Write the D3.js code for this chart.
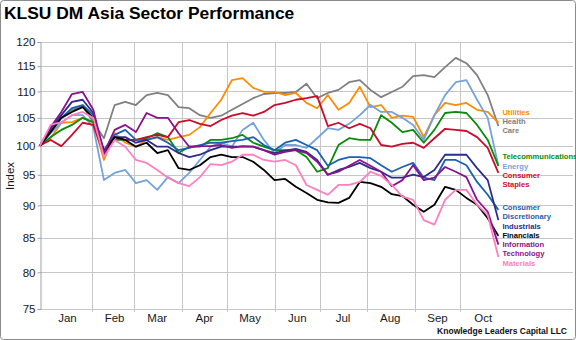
<!DOCTYPE html>
<html>
<head>
<meta charset="utf-8">
<script src="https://cdn.jsdelivr.net/npm/d3@7"></script>
<style>
  html, body { margin: 0; padding: 0; background: #fff; }
  svg { display: block; font-family: "Liberation Sans", Arial, sans-serif; }
</style>
</head>
<body>
<svg id="chart" width="576" height="340"></svg>
<script>
// ---- data (weekly closes, index = 100 at start) ----
const dates = ["2017-12-29","2018-01-05","2018-01-12","2018-01-19","2018-01-26","2018-02-02","2018-02-09","2018-02-16","2018-02-23","2018-03-02","2018-03-09","2018-03-16","2018-03-23","2018-03-30","2018-04-06","2018-04-13","2018-04-20","2018-04-27","2018-05-04","2018-05-11","2018-05-18","2018-05-25","2018-06-01","2018-06-08","2018-06-15","2018-06-22","2018-06-29","2018-07-06","2018-07-13","2018-07-20","2018-07-27","2018-08-03","2018-08-10","2018-08-17","2018-08-24","2018-08-31","2018-09-07","2018-09-14","2018-09-21","2018-09-28","2018-10-05","2018-10-12","2018-10-19","2018-10-26"];

const utilities = [100,101.3,104.1,104.2,105.0,104.1,97.5,102.2,100.5,99.8,101.0,101.5,101.0,101.5,101.9,103.3,105.9,108.4,112.2,112.6,110.7,109.9,109.9,109.3,109.7,107.8,106.8,109.3,106.5,107.8,110.9,107.0,107.4,105.0,105.4,105.2,101.5,105.5,107.8,107.4,107.8,106.5,106.1,104.1];
const healthCare = [100,102.8,105.0,106.5,107.2,104.2,101.3,107.4,108.0,107.4,109.3,109.7,109.3,107.0,106.8,105.5,105.0,105.4,106.5,107.6,108.7,109.5,109.7,109.7,109.9,111.5,108.7,109.7,110.3,111.8,112.2,110.3,108.9,109.9,110.9,113.0,113.2,112.8,114.8,116.7,115.6,113.2,109.3,103.5];
const telecom = [100,101.5,102.8,103.7,105.0,104.2,99.2,101.0,101.0,101.0,101.3,102.2,101.5,98.7,99.8,99.8,101.0,101.0,101.3,101.9,100.5,99.8,99.2,99.2,99.2,98.0,95.5,96.1,100.1,101.3,101.0,101.0,105.5,104.1,102.4,102.8,100.5,102.8,105.9,106.1,105.9,103.7,101.0,96.5];
const energy = [100,102.2,104.1,105.5,105.5,103.3,94.1,95.3,95.8,93.6,94.1,92.5,94.6,93.6,95.3,97.5,99.8,100.5,99.8,102.8,104.1,101.0,98.7,100.1,100.1,99.6,101.3,103.1,102.8,103.9,105.5,107.4,106.1,106.1,105.0,103.7,101.0,105.5,109.3,111.8,112.2,108.4,105.0,96.5];
const consStaples = [100,101.0,99.9,101.9,104.1,103.7,98.4,101.5,101.0,101.0,101.5,101.9,101.5,104.2,104.6,103.9,103.5,104.6,105.4,105.9,105.4,106.1,107.4,107.8,108.4,108.7,109.1,103.5,104.1,103.1,103.9,103.1,100.1,99.8,100.3,100.5,99.6,101.3,103.0,102.8,102.6,101.5,99.6,95.3];
const consDisc = [100,102.8,105.0,106.8,107.4,105.5,99.2,101.9,102.8,101.0,101.0,101.5,100.5,99.2,99.6,100.1,100.5,100.5,100.8,101.0,101.5,100.1,99.2,100.5,101.0,100.1,99.2,96.5,97.5,98.0,98.0,97.8,96.6,95.5,96.3,97.0,94.5,94.1,97.5,97.5,96.6,93.8,91.7,89.3];
const industrials = [100,103.1,105.5,108.0,108.4,105.9,98.7,101.5,101.5,100.5,101.0,99.8,99.8,98.7,98.0,98.4,99.2,99.8,99.8,99.8,99.8,99.2,98.7,99.1,99.4,98.9,97.5,95.0,95.8,96.3,97.0,96.1,95.5,94.5,94.5,95.0,94.6,95.8,98.4,98.4,98.4,96.1,94.1,87.7];
const financials = [100,102.4,105.0,106.1,107.0,105.0,98.9,101.5,101.0,99.8,100.5,98.7,99.2,96.1,95.8,96.6,98.0,98.4,98.0,98.0,97.2,95.8,94.1,94.3,93.0,92.0,90.9,90.5,90.4,91.2,93.8,93.6,93.0,91.8,91.5,90.1,89.0,90.1,93.0,92.5,91.2,90.1,88.0,85.3];
const infoTech = [100,103.3,106.1,109.5,109.9,106.5,98.7,102.8,103.7,102.4,105.9,105.0,105.0,102.2,99.8,99.9,99.9,100.1,99.6,99.9,99.8,99.2,98.4,98.9,99.2,98.7,97.2,95.0,95.5,96.5,97.5,96.5,95.5,93.1,94.1,96.6,94.1,94.5,96.3,95.5,94.6,90.9,89.0,84.0];
const materials = [100,103.7,104.2,105.5,106.1,105.0,98.0,101.0,99.8,97.5,97.0,95.8,94.5,93.6,93.1,94.6,96.8,96.6,97.2,98.4,98.4,97.5,97.2,97.5,96.6,93.3,92.5,91.7,93.3,93.3,93.8,95.5,94.8,93.3,91.4,90.9,87.7,87.0,90.9,92.5,92.5,90.1,88.5,82.2];

const seriesNames = ["Utilities","Health Care","Telecommunications","Energy","Consumer Staples","Consumer Discretionary","Industrials","Financials","Information Technology","Materials"];
const seriesValues = [utilities, healthCare, telecom, energy, consStaples, consDisc, industrials, financials, infoTech, materials];
const seriesColors = ["#ff8c00","#808080","#0a8a0a","#74a2da","#cc0a2a","#1a62ae","#2c2c8c","#000000","#8a128a","#ff7fc0"];
// end-label text lines and the index level of each label's first baseline
const labelLines = [["Utilities"],["Health","Care"],["Telecommunications"],["Energy"],["Consumer","Staples"],["Consumer","Discretionary"],["Industrials"],["Financials"],["Information","Technology"],["Materials"]];
const labelValues = [105.5, 103.8, 97.6, 96.0, 94.5, 89.2, 86.4, 85.0, 83.6, 80.9];
const yTicks = [75,80,85,90,95,100,105,110,115,120];
const monthLabels = ["Jan","Feb","Mar","Apr","May","Jun","Jul","Aug","Sep","Oct"];

const titleText = "KLSU DM Asia Sector Performance";
const yAxisTitle = "Index";
const creditText = "Knowledge Leaders Capital LLC";

// ---- layout ----
const W = 576, H = 340;
const plot = { left: 40, right: 573, top: 42, bottom: 309 };
const parse = d3.timeParse("%Y-%m-%d");
const dateObjs = dates.map(parse);

const x = d3.scaleTime()
  .domain([parse("2017-12-29"), parse("2018-12-14")])
  .range([plot.left, plot.right]);
const y = d3.scaleLog()
  .domain([75, 120])
  .range([plot.bottom, plot.top]);

const svg = d3.select("#chart");

// outer frame
svg.append("rect")
  .attr("x", 0.5).attr("y", 0.5).attr("width", W - 1).attr("height", H - 1)
  .attr("rx", 3).attr("fill", "#fff").attr("stroke", "#8c8c8c").attr("stroke-width", 1);

// title
svg.append("text")
  .attr("x", 4).attr("y", 19)
  .attr("font-size", 17.4).attr("font-weight", "bold").attr("fill", "#000")
  .text(titleText);

// horizontal grid
const gGrid = svg.append("g");
gGrid.selectAll("line.h").data(yTicks).join("line")
  .attr("x1", plot.left).attr("x2", plot.right)
  .attr("y1", d => Math.round(y(d)) + 0.5).attr("y2", d => Math.round(y(d)) + 0.5)
  .attr("stroke", "#c6c6c6").attr("stroke-width", 1);

// vertical month grid (month starts Feb..Oct)
const monthStarts = d3.timeMonth.range(parse("2018-02-01"), parse("2018-10-02"));
gGrid.selectAll("line.v").data(monthStarts).join("line")
  .attr("x1", d => Math.round(x(d)) + 0.5).attr("x2", d => Math.round(x(d)) + 0.5)
  .attr("y1", plot.top).attr("y2", plot.bottom + 3)
  .attr("stroke", "#c6c6c6").attr("stroke-width", 1);

// y axis
const yAxis = d3.axisLeft(y).tickValues(yTicks).tickFormat(d3.format("d")).tickSize(3).tickPadding(2);
const gy = svg.append("g").attr("transform", `translate(${plot.left + 0.5},0)`).call(yAxis);
gy.select(".domain").attr("stroke", "#a0a0a0");
gy.selectAll(".tick line").attr("stroke", "#a0a0a0");
gy.selectAll(".tick text").attr("font-size", 11.5).attr("fill", "#1a1a1a")
  .attr("font-family", "Liberation Sans, Arial, sans-serif");

// y title
svg.append("text")
  .attr("transform", `translate(14,176) rotate(-90)`)
  .attr("text-anchor", "middle")
  .attr("font-size", 11.5).attr("fill", "#1a1a1a")
  .text(yAxisTitle);

// x month labels (centered on mid-month)
const monthMids = d3.timeMonth.range(parse("2018-01-01"), parse("2018-10-02")).map(d => d3.timeDay.offset(d, 15));
svg.append("g").selectAll("text").data(monthMids).join("text")
  .attr("x", d => x(d)).attr("y", 322)
  .attr("text-anchor", "middle").attr("font-size", 11.5).attr("fill", "#1a1a1a")
  .text((d, i) => monthLabels[i]);

// lines
const line = d3.line()
  .x((d, i) => x(dateObjs[i]))
  .y(d => y(d));
const order = [1,0,3,2,4,5,6,7,8,9];
svg.append("g").selectAll("path").data(order).join("path")
  .attr("d", i => line(seriesValues[i]))
  .attr("fill", "none")
  .attr("stroke", i => seriesColors[i])
  .attr("stroke-width", 1.8)
  .attr("stroke-linejoin", "round");

// end labels
const lastDate = dateObjs[dateObjs.length - 1];
const gLab = svg.append("g");
seriesNames.forEach((name, i) => {
  const t = gLab.append("text")
    .attr("x", x(lastDate) + 4)
    .attr("y", y(labelValues[i]))
    .attr("font-size", 7.6).attr("font-weight", "bold")
    .attr("fill", seriesColors[i]);
  labelLines[i].forEach((ln, j) => {
    t.append("tspan").attr("x", x(lastDate) + 4).attr("dy", j === 0 ? 0 : 8.8).text(ln);
  });
});

// credit
svg.append("text")
  .attr("x", 567).attr("y", 334)
  .attr("text-anchor", "end")
  .attr("font-size", 8.5).attr("font-weight", "bold").attr("fill", "#111")
  .text(creditText);
</script>
</body>
</html>
